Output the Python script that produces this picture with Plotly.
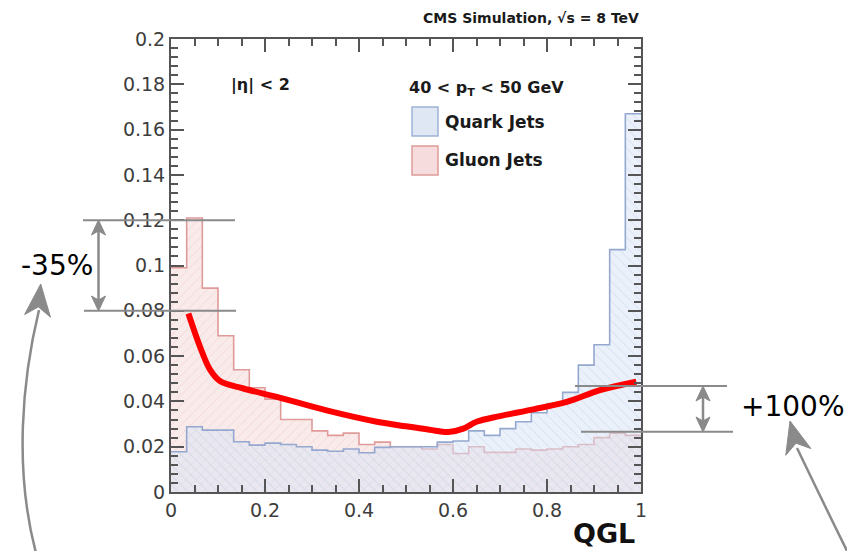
import plotly.graph_objects as go

# QGL distributions, 30 bins on [0, 1]
bin_edges = [i / 30 for i in range(31)]
gluon_jets = [0.099, 0.121, 0.090, 0.069, 0.054, 0.046, 0.041, 0.032, 0.032, 0.027,
              0.025, 0.026, 0.021, 0.022, 0.020, 0.020, 0.019, 0.021, 0.017, 0.020,
              0.0175, 0.0175, 0.019, 0.0185, 0.019, 0.020, 0.021, 0.024, 0.026, 0.025]
quark_jets = [0.0178, 0.0288, 0.0273, 0.0273, 0.0222, 0.0207, 0.0216, 0.021, 0.020, 0.0185,
              0.018, 0.019, 0.0173, 0.0197, 0.020, 0.020, 0.020, 0.022, 0.0225, 0.027,
              0.025, 0.028, 0.031, 0.035, 0.039, 0.044, 0.056, 0.065, 0.107, 0.167]

# hand-drawn trend curve
curve_x = [0.037, 0.062, 0.083, 0.104, 0.154, 0.225, 0.331, 0.438, 0.50, 0.55,
           0.59, 0.622, 0.65, 0.70, 0.771, 0.842, 0.913, 0.99]
curve_y = [0.0788, 0.064, 0.054, 0.049, 0.0457, 0.042, 0.036, 0.031, 0.029, 0.0275,
           0.0265, 0.028, 0.031, 0.0335, 0.0365, 0.0398, 0.045, 0.0487]

# reference levels marked at both ends
left_levels = [0.12, 0.08]
right_levels = [0.0468, 0.0266]

y_tick_vals = [0, 0.02, 0.04, 0.06, 0.08, 0.1, 0.12, 0.14, 0.16, 0.18, 0.2]
y_tick_text = ["0", "0.02", "0.04", "0.06", "0.08", "0.1", "0.12", "0.14", "0.16", "0.18", "0.2"]
x_tick_vals = [0, 0.2, 0.4, 0.6, 0.8, 1]
x_tick_text = ["0", "0.2", "0.4", "0.6", "0.8", "1"]

W, H = 847, 551
L, R, T, B = 171, 206, 39, 59
PW, PH = W - L - R, H - T - B
GRAY = "#8a8a8a"
AXIS = "#555555"


def px(x):
    return (x - L) / PW


def py(y):
    return (H - B - y) / PH


def path(points, close=True):
    s = "M " + " L ".join(f"{px(a):.5f},{py(b):.5f}" for a, b in points)
    return s + (" Z" if close else "")


def head(tip, d, length, half, notch):
    dx, dy = d
    n = (dx * dx + dy * dy) ** 0.5
    dx, dy = dx / n, dy / n
    qx, qy = -dy, dx
    tx, ty = tip
    return [(tx, ty),
            (tx - length * dx + half * qx, ty - length * dy + half * qy),
            (tx - (length - notch) * dx, ty - (length - notch) * dy),
            (tx - length * dx - half * qx, ty - length * dy - half * qy)]


def step(values):
    return bin_edges, values + [values[-1]]


fig = go.Figure()

gx, gy = step(gluon_jets)
fig.add_trace(go.Scatter(
    x=gx, y=gy, mode="lines", line=dict(shape="hv", color="#e09a9a", width=1.6),
    fill="tozeroy", fillcolor="rgba(240,200,200,0.45)",
    fillpattern=dict(shape="/", size=7, solidity=0.12, fgcolor="rgba(215,150,150,0.55)",
                     bgcolor="rgba(246,222,222,0.6)"),
    showlegend=False, hoverinfo="skip"))

qx, qy = step(quark_jets)
fig.add_trace(go.Scatter(
    x=qx, y=qy, mode="lines", line=dict(shape="hv", color="#95a8d0", width=1.6),
    fill="tozeroy", fillcolor="rgba(200,215,240,0.45)",
    fillpattern=dict(shape="\\", size=7, solidity=0.12, fgcolor="rgba(140,160,205,0.55)",
                     bgcolor="rgba(215,228,245,0.5)"),
    showlegend=False, hoverinfo="skip"))

fig.add_trace(go.Scatter(
    x=curve_x, y=curve_y, mode="lines",
    line=dict(shape="spline", smoothing=1.0, color="#ff0000", width=6),
    showlegend=False, hoverinfo="skip"))

# empty trace so the top/right frame axes get drawn
fig.add_trace(go.Scatter(x=[None], y=[None], xaxis="x2", yaxis="y2", mode="lines",
                         showlegend=False, hoverinfo="skip"))

shapes = []
# level lines
for lv, (x0, x1) in zip(left_levels, [(83, 235), (84, 236)]):
    shapes.append(dict(type="line", xref="paper", yref="y", x0=px(x0), x1=px(x1),
                       y0=lv, y1=lv, line=dict(color=GRAY, width=2)))
for lv, (x0, x1) in zip(right_levels, [(575, 727), (581, 733)]):
    shapes.append(dict(type="line", xref="paper", yref="y", x0=px(x0), x1=px(x1),
                       y0=lv, y1=lv, line=dict(color=GRAY, width=2)))

# vertical double arrows between the levels
for xx, (top, bot) in [(98.5, (220, 311)), (703, (386, 432))]:
    shapes.append(dict(type="line", xref="paper", yref="paper", x0=px(xx), x1=px(xx),
                       y0=py(top + 8), y1=py(bot - 8), line=dict(color=GRAY, width=2.5)))
    for tip, d in [((xx, top), (0, -1)), ((xx, bot), (0, 1))]:
        shapes.append(dict(type="path", xref="paper", yref="paper",
                           path=path(head(tip, d, 15, 7, 4)),
                           fillcolor=GRAY, line=dict(color=GRAY, width=1)))

# curved pointer arrows
shapes.append(dict(type="path", xref="paper", yref="paper",
                   path=f"M {px(36):.5f},{py(553):.5f} C {px(14):.5f},{py(470):.5f} "
                        f"{px(22):.5f},{py(380):.5f} {px(39):.5f},{py(310):.5f}",
                   line=dict(color=GRAY, width=2.5)))
shapes.append(dict(type="path", xref="paper", yref="paper",
                   path=path(head((40.7, 284), (0.1, -1), 32, 13, 9)),
                   fillcolor=GRAY, line=dict(color=GRAY, width=1)))
shapes.append(dict(type="path", xref="paper", yref="paper",
                   path=f"M {px(848):.5f},{py(553):.5f} Q {px(821):.5f},{py(498):.5f} "
                        f"{px(797):.5f},{py(448):.5f}",
                   line=dict(color=GRAY, width=2.5)))
shapes.append(dict(type="path", xref="paper", yref="paper",
                   path=path(head((790, 421), (-0.26, -0.965), 32, 13, 9)),
                   fillcolor=GRAY, line=dict(color=GRAY, width=1)))

# legend swatches
shapes.append(dict(type="rect", xref="paper", yref="paper", x0=px(412), x1=px(438),
                   y0=py(107), y1=py(136), fillcolor="#dfe7f4",
                   line=dict(color="#9fb2d6", width=1.5)))
shapes.append(dict(type="rect", xref="paper", yref="paper", x0=px(412), x1=px(438),
                   y0=py(146), y1=py(175), fillcolor="#f6dcdc",
                   line=dict(color="#de9a9a", width=1.5)))

ROOT_FONT = "DejaVu Sans"
TXT = "#1a1a1a"
annotations = [
    dict(text="<b>CMS Simulation, \u221as = 8 TeV</b>", x=px(641), y=py(18),
         xanchor="right", yanchor="middle", font=dict(family=ROOT_FONT, size=14, color=TXT)),
    dict(text="<b>|\u03b7| < 2</b>", x=px(229), y=py(85), xanchor="left", yanchor="middle",
         font=dict(family=ROOT_FONT, size=16, color=TXT)),
    dict(text="<b>40 < p<sub>T</sub> < 50 GeV</b>", x=px(407), y=py(88), xanchor="left",
         yanchor="middle", font=dict(family=ROOT_FONT, size=16, color=TXT)),
    dict(text="<b>Quark Jets</b>", x=px(443), y=py(122), xanchor="left", yanchor="middle",
         font=dict(family=ROOT_FONT, size=17, color=TXT)),
    dict(text="<b>Gluon Jets</b>", x=px(443), y=py(160), xanchor="left", yanchor="middle",
         font=dict(family=ROOT_FONT, size=17, color=TXT)),
    dict(text="<b>QGL</b>", x=px(604), y=py(533), xanchor="center", yanchor="middle",
         font=dict(family=ROOT_FONT, size=27, color="#111111")),
    dict(text="-35%", x=px(19), y=py(265), xanchor="left", yanchor="middle",
         font=dict(family="DejaVu Sans", size=28, color="#000000")),
    dict(text="+100%", x=px(739), y=py(406), xanchor="left", yanchor="middle",
         font=dict(family="DejaVu Sans", size=28, color="#000000")),
]
for a in annotations:
    a.update(xref="paper", yref="paper", showarrow=False)

axis_common = dict(showline=True, linecolor=AXIS, linewidth=2,
                   ticks="inside", ticklen=13, tickwidth=2, tickcolor=AXIS,
                   showgrid=False, zeroline=False,
                   tickfont=dict(family=ROOT_FONT, size=19, color="#3d3d3d"))
x_minor = dict(dtick=0.05, ticks="inside", ticklen=7, tickwidth=2, tickcolor=AXIS,
               showgrid=False)
y_minor = dict(dtick=0.004, ticks="inside", ticklen=7, tickwidth=2, tickcolor=AXIS,
               showgrid=False)

fig.update_layout(
    width=W, height=H, margin=dict(l=L, r=R, t=T, b=B),
    paper_bgcolor="white", plot_bgcolor="white",
    xaxis=dict(range=[0, 1], tickvals=x_tick_vals, ticktext=x_tick_text,
               minor=x_minor, **axis_common),
    yaxis=dict(range=[0, 0.2], tickvals=y_tick_vals, ticktext=y_tick_text,
               minor=y_minor, **axis_common),
    # frame on the top and right with the same tick marks
    xaxis2=dict(range=[0, 1], tickvals=x_tick_vals, overlaying="x", side="top",
                showticklabels=False, minor=x_minor, **axis_common),
    yaxis2=dict(range=[0, 0.2], tickvals=y_tick_vals, overlaying="y", side="right",
                showticklabels=False, minor=y_minor, **axis_common),
    shapes=shapes, annotations=annotations,
)

fig.write_html("out.html")
